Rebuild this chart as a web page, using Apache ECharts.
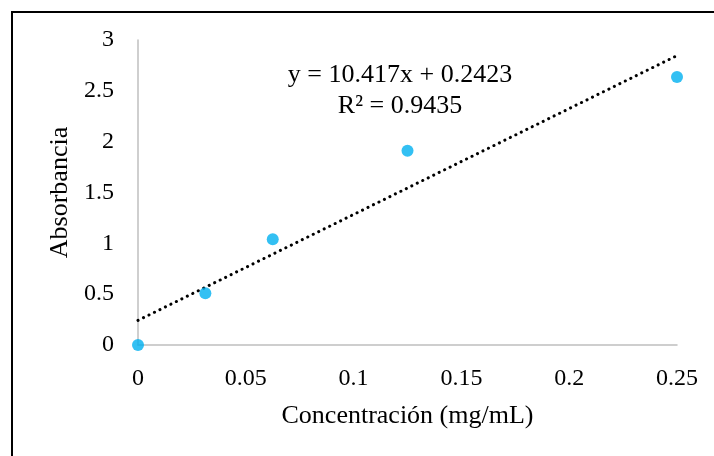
<!DOCTYPE html>
<html>
<head>
<meta charset="utf-8">
<script src="https://cdn.jsdelivr.net/npm/echarts@6/dist/echarts.min.js"></script>
<style>
  html, body { margin: 0; padding: 0; background: #fff; }
  #chart { width: 714px; height: 456px; }
</style>
</head>
<body>
<div id="chart"></div>
<script>
// datos
const concentracion = [0, 0.03125, 0.0625, 0.125, 0.25]
const absorbancia = [0, 0.51, 1.04, 1.91, 2.635]
// linea de tendencia y = 10.417x + 0.2423
const pendiente = 10.417
const intercepto = 0.2423
const tendenciaX = [0, 0.25]
const ecuacion = ['y = 10.417x + 0.2423', 'R² = 0.9435']

const font = '"Liberation Serif", "Times New Roman", serif'

let puntos = []
for (let i = 0; i < concentracion.length; i++) {
  puntos.push([concentracion[i], absorbancia[i]])
}
let tendencia = tendenciaX.map(x => [x, pendiente * x + intercepto])

const chart = echarts.init(document.getElementById('chart'))
chart.setOption({
  animation: false,
  backgroundColor: '#fff',
  grid: { left: 138, right: 37, top: 40, bottom: 111 },
  xAxis: {
    type: 'value',
    min: 0, max: 0.25, interval: 0.05,
    name: 'Concentración (mg/mL)',
    nameLocation: 'middle',
    nameGap: 58,
    nameTextStyle: { fontFamily: font, fontSize: 26, color: '#000' },
    axisLine: { show: true, onZero: false, lineStyle: { color: '#bfbfbf', width: 1.5 } },
    axisTick: { show: false },
    splitLine: { show: false },
    axisLabel: { fontFamily: font, fontSize: 24, color: '#000', margin: 22 }
  },
  yAxis: {
    type: 'value',
    min: 0, max: 3, interval: 0.5,
    name: 'Absorbancia',
    nameLocation: 'middle',
    nameGap: 65,
    nameTextStyle: { fontFamily: font, fontSize: 26, color: '#000' },
    axisLine: { show: true, lineStyle: { color: '#bfbfbf', width: 1.5 } },
    axisTick: { show: false },
    splitLine: { show: false },
    axisLabel: { fontFamily: font, fontSize: 24, color: '#000', margin: 24 }
  },
  series: [
    {
      type: 'line',
      data: tendencia,
      symbol: 'none',
      z: 2,
      lineStyle: { color: '#000', width: 3, type: [0.1, 6], cap: 'round' }
    },
    {
      type: 'scatter',
      data: puntos,
      symbol: 'circle',
      symbolSize: 12,
      z: 3,
      itemStyle: { color: '#00b0f0' }
    }
  ],
  graphic: [
    {
      type: 'rect',
      shape: { x: 12, y: 12, width: 740, height: 480 },
      style: { fill: 'none', stroke: '#000', lineWidth: 2 },
      silent: true
    },
    {
      type: 'text',
      x: 400, y: 75,
      style: {
        text: ecuacion[0], font: '26px ' + font, fill: '#000',
        textAlign: 'center', textVerticalAlign: 'middle'
      }
    },
    {
      type: 'text',
      x: 400, y: 106,
      style: {
        text: ecuacion[1], font: '26px ' + font, fill: '#000',
        textAlign: 'center', textVerticalAlign: 'middle'
      }
    }
  ]
})
</script>
</body>
</html>
